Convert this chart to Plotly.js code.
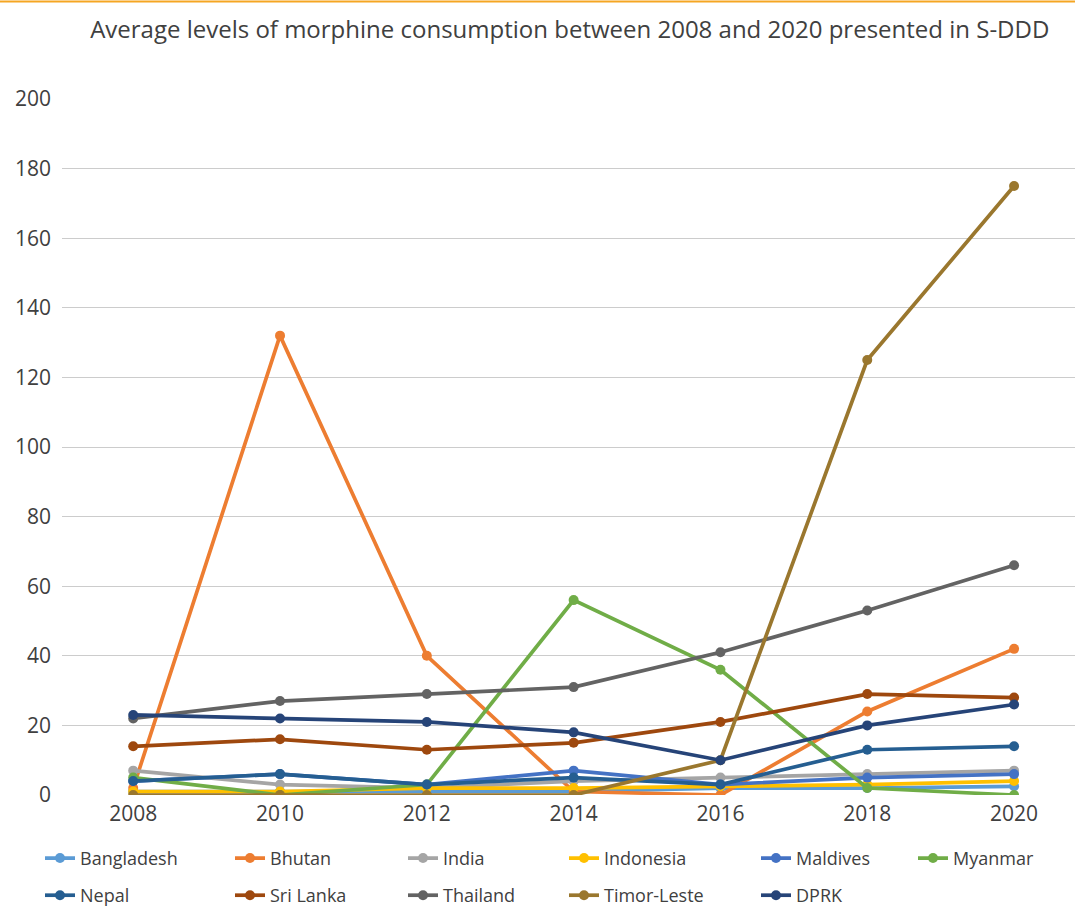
<!DOCTYPE html>
<html>
<head>
<meta charset="utf-8">
<script src="https://cdn.plot.ly/plotly-3.0.1.min.js"></script>
<style>html,body{margin:0;padding:0;background:#fff;}#chart{width:1075px;height:906px;}</style>
</head>
<body>
<div id="chart"></div>
<script>
const years = [2008, 2010, 2012, 2014, 2016, 2018, 2020];
const bangladesh = [1, 1, 1, 1, 2, 2, 2.5];
const bhutan = [2, 132, 40, 1, 0, 24, 42];
const india = [7, 3, 2, 4, 5, 6, 7];
const indonesia = [1, 1, 2, 2, 2.5, 3, 4];
const maldives = [4, 6, 3, 7, 3, 5, 6];
const myanmar = [5, 0, 3, 56, 36, 2, 0];
const nepal = [4, 6, 3, 5, 3, 13, 14];
const sriLanka = [14, 16, 13, 15, 21, 29, 28];
const thailand = [22, 27, 29, 31, 41, 53, 66];
const timorLeste = [0, 0, 0, 0, 10, 125, 175];
const dprk = [23, 22, 21, 18, 10, 20, 26];
const yTicks = [0, 20, 40, 60, 80, 100, 120, 140, 160, 180, 200];

const series = [
  ['Bangladesh', bangladesh, '#5B9BD5'],
  ['Bhutan', bhutan, '#ED7D31'],
  ['India', india, '#A5A5A5'],
  ['Indonesia', indonesia, '#FFC000'],
  ['Maldives', maldives, '#4472C4'],
  ['Myanmar', myanmar, '#70AD47'],
  ['Nepal', nepal, '#255E91'],
  ['Sri Lanka', sriLanka, '#9E480E'],
  ['Thailand', thailand, '#636363'],
  ['Timor-Leste', timorLeste, '#9A772E'],
  ['DPRK', dprk, '#264478']
];

// legend slot layout (pixel left edge of each legend entry, and row)
const legendColsPx = [40, 230, 403, 564, 756, 913];
const legendRowsY = [0.073, 0.032];

const legendId = i => i === 0 ? 'legend' : 'legend' + (i + 1);

const data = series.map(([name, vals, color], i) => ({
  type: 'scatter', mode: 'lines+markers', name: name,
  x: years, y: vals,
  legend: legendId(i),
  line: {color: color, width: 3.7},
  marker: {color: color, size: 10}
}));

const font = "'Open Sans', 'Noto Sans', sans-serif";
const layout = {
  width: 1075, height: 906,
  margin: {l: 62, r: 0, t: 99, b: 111},
  paper_bgcolor: '#fff', plot_bgcolor: '#fff',
  font: {family: font, color: '#595959'},
  title: {text: 'Average levels of morphine consumption between 2008 and 2020 presented in S-DDD',
          font: {family: font, size: 24, color: '#404040'}, x: 0.53, xanchor: 'center', y: 0.967, yanchor: 'middle'},
  xaxis: {range: [2007.03, 2020.83], tickmode: 'array', tickvals: years, ticktext: years.map(String),
          showgrid: false, zeroline: false, showline: false, ticks: '', tickfont: {size: 21, color: '#404040'},
          ticklabelstandoff: 4, fixedrange: true},
  yaxis: {range: [0, 200], tickmode: 'array', tickvals: yTicks, ticktext: yTicks.map(String),
          showgrid: true, gridcolor: '#cccccc', gridwidth: 1, zeroline: false, showline: false, ticks: '',
          tickfont: {size: 21, color: '#404040'}, ticklabelstandoff: 10, fixedrange: true},
  showlegend: true,
  shapes: [{type: 'line', xref: 'paper', yref: 'paper', x0: -0.07, x1: 1, y0: 1.14, y1: 1.14,
            line: {color: '#F5A623', width: 2}}]
};
series.forEach((s, i) => {
  const col = i % 6, row = Math.floor(i / 6);
  layout[legendId(i)] = {
    orientation: 'h', xref: 'container', yref: 'container',
    x: legendColsPx[col] / 1075, y: legendRowsY[row], xanchor: 'left', yanchor: 'top',
    font: {size: 18, color: '#404040'}, itemwidth: 30, bgcolor: 'rgba(0,0,0,0)'
  };
});
Plotly.newPlot('chart', data, layout, {displayModeBar: false, staticPlot: true});
</script>
</body>
</html>
